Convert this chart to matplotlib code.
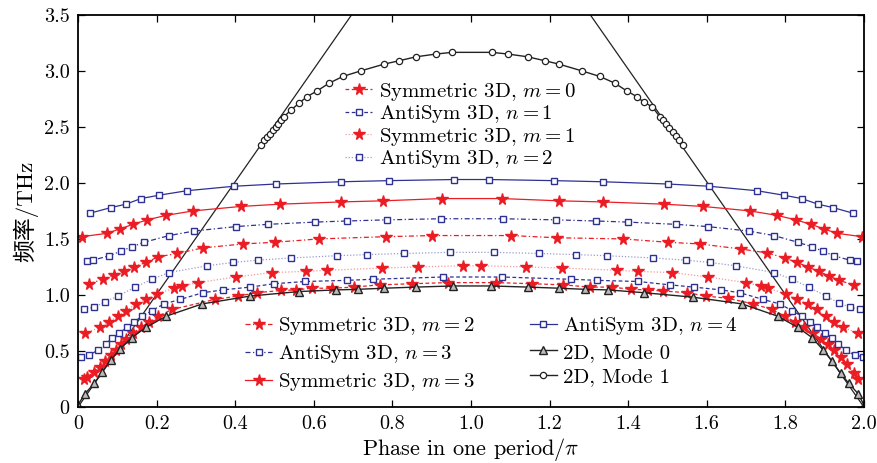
import numpy as np
import matplotlib
matplotlib.use("Agg")
import matplotlib.pyplot as plt

plt.rcParams['font.family'] = ['cmr10', 'DejaVu Serif']
plt.rcParams['mathtext.fontset'] = 'cm'
plt.rcParams['axes.unicode_minus'] = False
plt.rcParams['axes.formatter.use_mathtext'] = True

RED = '#ec1c24'
BLUE = '#2e3192'
BLK = '#222222'

# light lines
light_l_x = [0.0, 0.75]
light_l_y = [0.0, 3.77]
light_r_x = [2.0, 1.25]
light_r_y = [0.0, 3.77]

# 2D, Mode 0
m0_x = [0.0, 0.018, 0.041, 0.061, 0.084, 0.107, 0.137, 0.173, 0.224, 0.316, 0.438, 0.562, 0.656,
        0.712, 0.779, 0.860, 0.954, 1.051, 1.145, 1.224, 1.290, 1.349, 1.440, 1.565, 1.690, 1.781,
        1.832, 1.868, 1.896, 1.919, 1.941, 1.962, 1.985, 2.0]
m0_y = [0.02, 0.12, 0.21, 0.31, 0.42, 0.52, 0.62, 0.71, 0.81, 0.92, 0.99, 1.03, 1.045,
        1.05, 1.06, 1.07, 1.08, 1.08, 1.07, 1.06, 1.05, 1.045, 1.02, 0.98, 0.92, 0.81,
        0.71, 0.62, 0.51, 0.41, 0.30, 0.21, 0.12, 0.02]

# 2D, Mode 1
m1_x = [0.466, 0.474, 0.481, 0.489, 0.496, 0.503, 0.510, 0.517, 0.524, 0.542, 0.562, 0.583, 0.608,
        0.639, 0.674, 0.720, 0.779, 0.817, 0.860, 0.911, 0.952, 1.053, 1.094, 1.145, 1.188, 1.224,
        1.282, 1.328, 1.366, 1.397, 1.422, 1.440, 1.461, 1.481, 1.489, 1.497, 1.505, 1.513, 1.521,
        1.530, 1.539]
m1_y = [2.34, 2.38, 2.41, 2.44, 2.47, 2.50, 2.53, 2.56, 2.59, 2.65, 2.71, 2.77, 2.82,
        2.89, 2.95, 3.00, 3.06, 3.09, 3.125, 3.15, 3.165, 3.165, 3.15, 3.125, 3.09, 3.06,
        3.00, 2.95, 2.89, 2.82, 2.77, 2.72, 2.68, 2.59, 2.56, 2.53, 2.49, 2.45, 2.42,
        2.38, 2.34]

# Symmetric 3D, m = 0
s0_x = [0.015, 0.023, 0.041, 0.056, 0.069, 0.084, 0.097, 0.109, 0.122, 0.140, 0.160, 0.181, 0.204,
        0.239, 0.349, 0.407, 0.455, 0.517, 0.555, 0.595, 0.646, 0.702, 0.768, 0.850, 0.941, 1.064,
        1.155, 1.234, 1.303, 1.359, 1.407, 1.450, 1.489, 1.550, 1.598, 1.654, 1.718, 1.766, 1.799,
        1.824, 1.848, 1.870, 1.890, 1.908, 1.925, 1.942, 1.958, 1.975, 1.985]
s0_y = [0.25, 0.27, 0.31, 0.36, 0.41, 0.46, 0.51, 0.56, 0.61, 0.66, 0.71, 0.76, 0.81,
        0.87, 0.96, 0.99, 1.02, 1.04, 1.045, 1.06, 1.06, 1.07, 1.09, 1.10, 1.11, 1.11,
        1.10, 1.09, 1.07, 1.07, 1.05, 1.045, 1.035, 1.02, 0.99, 0.97, 0.92, 0.87, 0.81,
        0.76, 0.71, 0.66, 0.61, 0.56, 0.51, 0.45, 0.38, 0.30, 0.25]

# AntiSym 3D, n = 1
a1_x = [0.008, 0.028, 0.051, 0.071, 0.087, 0.104, 0.125, 0.142, 0.163, 0.188, 0.219, 0.260, 0.318,
        0.369, 0.438, 0.499, 0.578, 0.684, 0.751, 0.929, 1.079, 1.254, 1.321, 1.425, 1.506, 1.567,
        1.636, 1.684, 1.743, 1.786, 1.817, 1.842, 1.863, 1.881, 1.901, 1.919, 1.934, 1.954, 1.977,
        1.997]
a1_y = [0.45, 0.46, 0.51, 0.56, 0.62, 0.66, 0.71, 0.76, 0.81, 0.86, 0.92, 0.96, 1.02,
        1.045, 1.07, 1.10, 1.12, 1.13, 1.14, 1.16, 1.16, 1.14, 1.13, 1.12, 1.09, 1.07,
        1.045, 1.02, 0.96, 0.92, 0.86, 0.81, 0.76, 0.71, 0.66, 0.62, 0.56, 0.51, 0.46,
        0.45]

# Symmetric 3D, m = 1
s1_x = [0.018, 0.056, 0.079, 0.102, 0.122, 0.148, 0.173, 0.201, 0.244, 0.265, 0.305, 0.402, 0.494,
        0.580, 0.634, 0.774, 0.865, 0.980, 1.025, 1.140, 1.232, 1.372, 1.425, 1.511, 1.603, 1.700,
        1.738, 1.756, 1.802, 1.830, 1.858, 1.880, 1.903, 1.924, 1.947, 1.985]
s1_y = [0.66, 0.71, 0.76, 0.81, 0.86, 0.92, 0.96, 1.01, 1.06, 1.08, 1.11, 1.16, 1.20,
        1.21, 1.22, 1.24, 1.25, 1.26, 1.26, 1.25, 1.24, 1.22, 1.21, 1.20, 1.16, 1.11,
        1.08, 1.06, 1.01, 0.96, 0.92, 0.87, 0.81, 0.76, 0.71, 0.66]

# AntiSym 3D, n = 2
a2_x = [0.015, 0.041, 0.069, 0.102, 0.145, 0.188, 0.232, 0.328, 0.394, 0.458, 0.542, 0.659, 0.735,
        0.830, 0.947, 1.059, 1.173, 1.267, 1.346, 1.463, 1.547, 1.608, 1.674, 1.771, 1.817, 1.860,
        1.903, 1.936, 1.964, 1.990]
a2_y = [0.875, 0.89, 0.94, 0.99, 1.07, 1.14, 1.20, 1.26, 1.29, 1.31, 1.33, 1.35, 1.36,
        1.37, 1.38, 1.38, 1.37, 1.36, 1.35, 1.33, 1.31, 1.29, 1.26, 1.20, 1.14, 1.07,
        0.99, 0.93, 0.89, 0.875]

# Symmetric 3D, m = 2
s2_x = [0.028, 0.064, 0.092, 0.117, 0.142, 0.173, 0.204, 0.252, 0.318, 0.420, 0.501, 0.613, 0.784,
        0.901, 1.102, 1.219, 1.387, 1.501, 1.583, 1.687, 1.753, 1.799, 1.830, 1.858, 1.885, 1.911,
        1.936, 1.975]
s2_y = [1.10, 1.14, 1.18, 1.21, 1.25, 1.29, 1.34, 1.37, 1.42, 1.455, 1.47, 1.50, 1.52,
        1.53, 1.53, 1.51, 1.50, 1.47, 1.455, 1.41, 1.375, 1.33, 1.29, 1.25, 1.21, 1.17,
        1.13, 1.09]

# AntiSym 3D, n = 3
a3_x = [0.023, 0.038, 0.079, 0.109, 0.137, 0.168, 0.232, 0.295, 0.402, 0.483, 0.603, 0.684, 0.786,
        0.924, 1.081, 1.216, 1.318, 1.399, 1.522, 1.603, 1.707, 1.771, 1.832, 1.868, 1.896, 1.924,
        1.964, 1.982]
a3_y = [1.30, 1.31, 1.35, 1.39, 1.43, 1.47, 1.53, 1.57, 1.61, 1.63, 1.65, 1.66, 1.67,
        1.68, 1.68, 1.67, 1.66, 1.65, 1.63, 1.61, 1.57, 1.53, 1.47, 1.43, 1.39, 1.35,
        1.31, 1.30]

# Symmetric 3D, m = 3
s3_x = [0.010, 0.074, 0.107, 0.140, 0.176, 0.224, 0.293, 0.415, 0.514, 0.669, 0.776, 0.926, 1.079,
        1.224, 1.336, 1.491, 1.590, 1.710, 1.779, 1.827, 1.865, 1.898, 1.931, 1.995]
s3_y = [1.52, 1.55, 1.59, 1.63, 1.67, 1.71, 1.75, 1.79, 1.81, 1.83, 1.84, 1.86, 1.86,
        1.84, 1.83, 1.81, 1.79, 1.75, 1.71, 1.67, 1.63, 1.59, 1.55, 1.52]

# AntiSym 3D, n = 4
a4_x = [0.031, 0.084, 0.122, 0.160, 0.206, 0.277, 0.397, 0.504, 0.669, 0.791, 0.957, 1.046, 1.211,
        1.336, 1.501, 1.606, 1.728, 1.796, 1.842, 1.883, 1.921, 1.972]
a4_y = [1.73, 1.78, 1.81, 1.86, 1.89, 1.93, 1.97, 1.99, 2.01, 2.02, 2.03, 2.03, 2.02,
        2.01, 1.99, 1.97, 1.93, 1.89, 1.86, 1.81, 1.78, 1.73]

x_ticks = [0, 0.2, 0.4, 0.6, 0.8, 1.0, 1.2, 1.4, 1.6, 1.8, 2.0]
x_labels = ['0', '0.2', '0.4', '0.6', '0.8', '1.0', '1.2', '1.4', '1.6', '1.8', '2.0']
y_ticks = [0, 0.5, 1.0, 1.5, 2.0, 2.5, 3.0, 3.5]
y_labels = ['0', '0.5', '1.0', '1.5', '2.0', '2.5', '3.0', '3.5']

fig = plt.figure(figsize=(8.77, 4.63), dpi=100)
ax = fig.add_axes([0.089, 0.121, 0.896, 0.847])

ax.plot(light_l_x, light_l_y, color=BLK, lw=0.9)
ax.plot(light_r_x, light_r_y, color=BLK, lw=0.9)

star = dict(marker='*', ms=8.5, mfc=RED, mec=RED, color=RED, lw=0.9)
sq = dict(marker='s', ms=4.5, mfc='white', mec=BLUE, mew=1.0, color=BLUE, lw=0.9)

h_s0, = ax.plot(s0_x, s0_y, ls=(0, (3, 2)), label='Symmetric 3D, $m=0$', **star)
h_a1, = ax.plot(a1_x, a1_y, ls=(0, (3, 2)), label='AntiSym 3D, $n=1$', **sq)
h_s1, = ax.plot(s1_x, s1_y, ls=(0, (1, 1.5)), label='Symmetric 3D, $m=1$',
                **{**star, 'color': '#f59a9d'})
h_a2, = ax.plot(a2_x, a2_y, ls=(0, (1, 1.5)), label='AntiSym 3D, $n=2$',
                **{**sq, 'color': '#9a9ccc'})
h_s2, = ax.plot(s2_x, s2_y, ls=(0, (4, 2, 1, 2)), label='Symmetric 3D, $m=2$', **star)
h_a3, = ax.plot(a3_x, a3_y, ls=(0, (4, 2, 1, 2)), label='AntiSym 3D, $n=3$', **sq)
h_s3, = ax.plot(s3_x, s3_y, ls='-', label='Symmetric 3D, $m=3$', **star)
h_a4, = ax.plot(a4_x, a4_y, ls='-', label='AntiSym 3D, $n=4$', **sq)
h_m0, = ax.plot(m0_x, m0_y, ls='-', color=BLK, lw=1.0, marker='^', ms=5.5, mfc='#bbbbbb',
                mec=BLK, mew=1.0, label='2D, Mode 0')
h_m1, = ax.plot(m1_x, m1_y, ls='-', color=BLK, lw=1.0, marker='o', ms=4.5, mfc='white',
                mec=BLK, mew=0.9, label='2D, Mode 1')

ax.set_xlim(0, 2.0)
ax.set_ylim(0, 3.5)
ax.set_xticks(x_ticks)
ax.set_xticklabels(x_labels)
ax.set_yticks(y_ticks)
ax.set_yticklabels(y_labels)
ax.tick_params(direction='in', top=True, right=True, length=5, width=0.9, labelsize=14.5, pad=6)
for s in ax.spines.values():
    s.set_linewidth(1.3)

ax.set_xlabel('Phase in one period/$\\pi$', fontsize=16, labelpad=2)
ax.set_ylabel('频率/THz', fontsize=16.5, family=['cmr10', 'Noto Sans CJK SC'], labelpad=4)

leg1 = ax.legend(handles=[h_s0, h_a1, h_s1, h_a2], loc='upper left', bbox_to_anchor=(0.34, 0.832),
                 frameon=False, fontsize=15, borderpad=0, borderaxespad=0, handlelength=1.3,
                 handletextpad=0.3, labelspacing=0.02)
ax.add_artist(leg1)
ax.legend(handles=[h_s2, h_a3, h_s3, h_a4, h_m0, h_m1], ncol=2, loc='upper left',
          bbox_to_anchor=(0.2125, 0.235), frameon=False, fontsize=15, borderpad=0,
          borderaxespad=0, handlelength=1.3, handletextpad=0.3, labelspacing=0.3,
          columnspacing=2.6)

fig.savefig('out.png', dpi=100)
